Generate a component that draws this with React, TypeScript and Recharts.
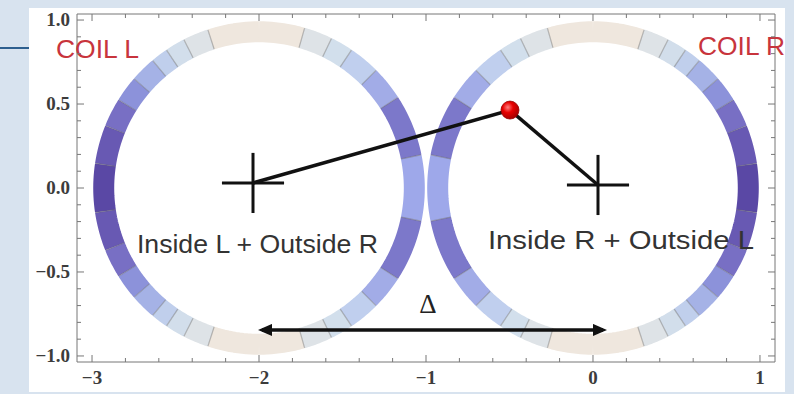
import { ComposedChart, Scatter, XAxis, YAxis, ReferenceDot } from 'recharts';

// axis ticks (minor + major, Mathematica style frame)
const xTicks = [-3, -2.8, -2.6, -2.4, -2.2, -2, -1.8, -1.6, -1.4, -1.2, -1, -0.8, -0.6, -0.4, -0.2, 0, 0.2, 0.4, 0.6, 0.8, 1];
const yTicks = [-1, -0.9, -0.8, -0.7, -0.6, -0.5, -0.4, -0.3, -0.2, -0.1, 0, 0.1, 0.2, 0.3, 0.4, 0.5, 0.6, 0.7, 0.8, 0.9, 1];

// coils: centre and which side faces away from the other coil
const coilNames = ['COIL L', 'COIL R'];
const coilCenterX = [-2, 0];
const coilCenterY = [0, 0];
const coilOutward = [-1, 1];
const ringRadius = 0.93;
const ringInner = 0.87;
const ringOuter = 0.99;

// colour bands, angle (deg) measured from the horizontal on each side
const outerBandEdges = [0, 8.5, 22, 32, 41, 50, 56, 63, 72, 90];
const outerBandColors = ['#5a48a5', '#6859b3', '#786fc4', '#8c92da', '#a5b2e6', '#c0cfec', '#d2deeb', '#dee3e7', '#efe7de'];
const innerBandEdges = [0, 11.5, 33, 45, 56, 64, 74, 90];
const innerBandColors = ['#9ea8ea', '#7c78ca', '#a2ace7', '#c0cfee', '#d2dfec', '#dee3e7', '#efe7de'];

// sketch annotations
const crossL = { x: -2.036, y: 0.03 };
const crossR = { x: 0.03, y: 0.018 };
const crossHalfW = 0.186;
const crossHalfH = 0.179;
const pointP = { x: -0.497, y: 0.464 };
const deltaY = -0.845;
const deltaFrom = -1.982;
const deltaTo = 0.06;

const xDomain = [-3.09, 1.09];
const yDomain = [-1.036, 1.036];
const frameColor = '#777';
const tickFont = { fontFamily: '"Liberation Serif", serif', fontSize: 19, fontWeight: 700, fill: '#3c3c3c' };

const fmt = (v: number, digits: number) => {
  const s = Math.abs(v).toFixed(digits);
  return v < -1e-9 ? '\u2212' + s : s;
};

const isMajorX = (v: number) => Math.abs(v - Math.round(v)) < 1e-6;
const isMajorY = (v: number) => Math.abs(v * 2 - Math.round(v * 2)) < 1e-6;

const BottomTick = ({ x, y, payload }: any) => {
  const major = isMajorX(payload.value);
  return (
    <g>
      <line x1={x} x2={x} y1={y} y2={y - (major ? 7 : 4)} stroke={frameColor} />
      {major && (
        <text x={x} y={y + 22} textAnchor="middle" {...tickFont}>
          {fmt(payload.value, 0)}
        </text>
      )}
    </g>
  );
};

const TopTick = ({ x, y, payload }: any) => (
  <line x1={x} x2={x} y1={y} y2={y + (isMajorX(payload.value) ? 7 : 4)} stroke={frameColor} />
);

const LeftTick = ({ x, y, payload }: any) => {
  const major = isMajorY(payload.value);
  return (
    <g>
      <line x1={x} x2={x + (major ? 7 : 4)} y1={y} y2={y} stroke={frameColor} />
      {major && (
        <text x={x - 7} y={y + 6} textAnchor="end" {...tickFont}>
          {fmt(payload.value, 1)}
        </text>
      )}
    </g>
  );
};

const RightTick = ({ x, y, payload }: any) => (
  <line x1={x} x2={x - (isMajorY(payload.value) ? 7 : 4)} y1={y} y2={y} stroke={frameColor} />
);

const arc = (cx: number, cy: number, side: number, r: number, a0: number, a1: number) => {
  const n = Math.max(2, Math.ceil(Math.abs(a1 - a0) / 1.5) + 1);
  const pts = [];
  for (let i = 0; i < n; i++) {
    const a = ((a0 + ((a1 - a0) * i) / (n - 1)) * Math.PI) / 180;
    pts.push({ x: cx + side * r * Math.cos(a), y: cy + r * Math.sin(a) });
  }
  return pts;
};

type Seg = { pts: { x: number; y: number }[]; color: string };
const ringSegments: Seg[] = [];
const separators: { x: number; y: number }[][] = [];

coilNames.forEach((_, c) => {
  const cx = coilCenterX[c];
  const cy = coilCenterY[c];
  const sides = [
    { side: coilOutward[c], edges: outerBandEdges, colors: outerBandColors },
    { side: -coilOutward[c], edges: innerBandEdges, colors: innerBandColors },
  ];
  sides.forEach(({ side, edges, colors }) => {
    colors.forEach((color, i) => {
      if (i === 0) {
        ringSegments.push({ pts: arc(cx, cy, side, ringRadius, -edges[1], edges[1]), color });
      } else {
        ringSegments.push({ pts: arc(cx, cy, side, ringRadius, edges[i], edges[i + 1]), color });
        ringSegments.push({ pts: arc(cx, cy, side, ringRadius, -edges[i + 1], -edges[i]), color });
      }
    });
    edges.slice(1, -1).forEach((e) => {
      [e, -e].forEach((a) => {
        const rad = (a * Math.PI) / 180;
        separators.push([
          { x: cx + side * ringInner * Math.cos(rad), y: cy + ringInner * Math.sin(rad) },
          { x: cx + side * ringOuter * Math.cos(rad), y: cy + ringOuter * Math.sin(rad) },
        ]);
      });
    });
  });
});

const crossLines = [crossL, crossR].flatMap((p) => [
  [{ x: p.x - crossHalfW, y: p.y }, { x: p.x + crossHalfW, y: p.y }],
  [{ x: p.x, y: p.y - crossHalfH }, { x: p.x, y: p.y + crossHalfH }],
]);

const noShape = () => <g />;

const RedDot = (p: any) => (
  <circle cx={p.cx} cy={p.cy} r={9} fill="url(#dotGrad)" stroke="#9a0000" strokeWidth={0.8} />
);

const textShape = (text: string, color: string, size: number, anchor: string, width?: number, serif = false) => (p: any) => (
  <text
    x={p.cx}
    y={p.cy}
    textAnchor={anchor}
    fill={color}
    fontSize={size}
    textLength={width}
    lengthAdjust={width ? 'spacingAndGlyphs' : undefined}
    fontFamily={serif ? '"Liberation Serif", serif' : '"Liberation Sans", Arial, sans-serif'}
  >
    {text}
  </text>
);

export default function App() {
  return (
    <div style={{ position: 'absolute', left: 0, top: 0, width: 794, height: 394, background: '#d8e3ef', overflow: 'hidden' }}>
      <div style={{ position: 'absolute', left: 0, top: 47, width: 29, height: 2, background: '#2d5f8f' }} />
      <div style={{ position: 'absolute', left: 29, top: 8, width: 756, height: 384, background: '#fff' }}>
        <ComposedChart width={756} height={384} margin={{ top: 5, right: 9, left: 0, bottom: 0 }}>
          <defs>
            <radialGradient id="dotGrad" cx="38%" cy="35%" r="65%">
              <stop offset="0%" stopColor="#ff8080" />
              <stop offset="45%" stopColor="#e80000" />
              <stop offset="100%" stopColor="#a80000" />
            </radialGradient>
            <marker id="arrowHead" markerWidth={14} markerHeight={12} refX={10} refY={6} orient="auto-start-reverse" markerUnits="userSpaceOnUse">
              <path d="M0,0 L14,6 L0,12 z" fill="#111" />
            </marker>
          </defs>
          <XAxis
            type="number"
            dataKey="x"
            domain={xDomain}
            allowDataOverflow
            ticks={xTicks}
            interval={0}
            tickSize={0}
            tickMargin={0}
            tickLine={false}
            tick={BottomTick}
            axisLine={{ stroke: frameColor }}
            height={30}
          />
          <XAxis
            xAxisId="top"
            orientation="top"
            type="number"
            dataKey="x"
            domain={xDomain}
            allowDataOverflow
            ticks={xTicks}
            interval={0}
            tickSize={0}
            tickMargin={0}
            tickLine={false}
            tick={TopTick}
            axisLine={{ stroke: frameColor }}
            height={1}
          />
          <YAxis
            type="number"
            dataKey="y"
            domain={yDomain}
            allowDataOverflow
            ticks={yTicks}
            interval={0}
            tickSize={0}
            tickMargin={0}
            tickLine={false}
            tick={LeftTick}
            axisLine={{ stroke: frameColor }}
            width={48}
          />
          <YAxis
            yAxisId="right"
            orientation="right"
            type="number"
            dataKey="y"
            domain={yDomain}
            allowDataOverflow
            ticks={yTicks}
            interval={0}
            tickSize={0}
            tickMargin={0}
            tickLine={false}
            tick={RightTick}
            axisLine={{ stroke: frameColor }}
            width={1}
          />

          {ringSegments.map((s, i) => (
            <Scatter
              key={'seg' + i}
              data={s.pts}
              shape={noShape}
              line={{ stroke: s.color, strokeWidth: 21, strokeLinecap: 'butt', strokeLinejoin: 'round' }}
              isAnimationActive={false}
              legendType="none"
            />
          ))}
          {separators.map((s, i) => (
            <Scatter
              key={'sep' + i}
              data={s}
              shape={noShape}
              line={{ stroke: '#6b6b6b', strokeWidth: 1.2, strokeOpacity: 0.45 }}
              isAnimationActive={false}
              legendType="none"
            />
          ))}
          {crossLines.map((s, i) => (
            <Scatter
              key={'cross' + i}
              data={s}
              shape={noShape}
              line={{ stroke: '#111', strokeWidth: 3 }}
              isAnimationActive={false}
              legendType="none"
            />
          ))}
          <Scatter data={[crossL, pointP]} shape={noShape} line={{ stroke: '#111', strokeWidth: 3.5 }} isAnimationActive={false} legendType="none" />
          <Scatter data={[pointP, crossR]} shape={noShape} line={{ stroke: '#111', strokeWidth: 3.5 }} isAnimationActive={false} legendType="none" />
          <Scatter
            data={[{ x: deltaFrom, y: deltaY }, { x: deltaTo, y: deltaY }]}
            shape={noShape}
            line={{ stroke: '#111', strokeWidth: 3.5, markerStart: 'url(#arrowHead)', markerEnd: 'url(#arrowHead)' }}
            isAnimationActive={false}
            legendType="none"
          />
          <Scatter data={[pointP]} shape={RedDot} isAnimationActive={false} legendType="none" />

          <ReferenceDot x={-3.216} y={0.774} r={0} ifOverflow="visible" shape={textShape('COIL L', '#c8343c', 26, 'start', 83)} />
          <ReferenceDot x={0.629} y={0.792} r={0} ifOverflow="visible" shape={textShape('COIL R', '#c8343c', 26, 'start', 87)} />
          <ReferenceDot x={-2.731} y={-0.387} r={0} ifOverflow="visible" shape={textShape('Inside L + Outside R', '#333', 26, 'start', 241)} />
          <ReferenceDot x={-0.629} y={-0.363} r={0} ifOverflow="visible" shape={textShape('Inside R + Outside L', '#333', 26, 'start', 266)} />
          <ReferenceDot x={-0.988} y={-0.744} r={0} ifOverflow="visible" shape={textShape('\u0394', '#222', 27, 'middle', undefined, true)} />
        </ComposedChart>
      </div>
    </div>
  );
}
